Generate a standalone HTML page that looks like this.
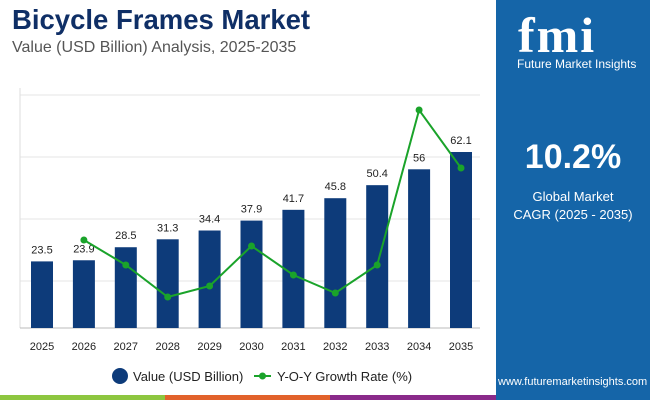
<!DOCTYPE html>
<html><head><meta charset="utf-8"><style>
body{margin:0;width:650px;height:400px;overflow:hidden;background:#fff;font-family:"Liberation Sans",sans-serif;position:relative}
.t{position:absolute;white-space:nowrap}
</style></head><body>
<div class="t" style="left:12px;top:4px;font-size:27.5px;font-weight:bold;color:#0f2f66">Bicycle Frames Market</div>
<div class="t" style="left:12px;top:39px;font-size:16px;color:#555">Value (USD Billion) Analysis, 2025-2035</div>
<div style="position:absolute;left:496px;top:0;width:154px;height:400px;background:#1565a8"></div>
<div class="t" style="left:518px;top:6px;font-size:50px;font-weight:bold;color:#fff;font-family:'Liberation Serif',serif;letter-spacing:2px">fmi</div>
<div class="t" style="left:517px;top:57px;font-size:12px;color:#fff">Future Market Insights</div>
<div class="t" style="left:496px;width:154px;text-align:center;top:138px;font-size:34px;font-weight:bold;color:#fff">10.2%</div>
<div class="t" style="left:496px;width:154px;text-align:center;top:188px;font-size:13px;color:#fff;line-height:18px">Global Market<br>CAGR (2025 - 2035)</div>
<div class="t" style="left:498px;top:376px;font-size:11px;color:#fff">www.futuremarketinsights.com</div>
<div style="position:absolute;left:0;top:395px;width:165px;height:5px;background:#8dc63f"></div>
<div style="position:absolute;left:165px;top:395px;width:165px;height:5px;background:#e2622b"></div>
<div style="position:absolute;left:330px;top:395px;width:166px;height:5px;background:#8a2a8a"></div>
<svg id="c" width="496" height="395" style="position:absolute;left:0;top:0"></svg>
<script>
const years=["2025","2026","2027","2028","2029","2030","2031","2032","2033","2034","2035"];
const values=[23.5,23.9,28.5,31.3,34.4,37.9,41.7,45.8,50.4,56,62.1];
const growth=[null,8.8,6.3,3.1,4.2,8.2,5.3,3.5,6.3,21.8,16.0];
const svg=document.getElementById('c');const NS='http://www.w3.org/2000/svg';
function mk(t,a){const e=document.createElementNS(NS,t);for(const k in a)e.setAttribute(k,a[k]);svg.appendChild(e);return e;}
const base=328;
const x=i=>42+i*41.9;
const yv=v=>base-v*2.834;
const yg=g=>base-g*10;
[95,157,219,281].forEach(gy=>{const l=mk('line',{x1:20,x2:480,y1:gy,y2:gy,stroke:'#e6e6e6'});

});
const ax=mk('line',{x1:20,x2:20,y1:88,y2:base,stroke:'#ddd'});


const bl=mk('line',{x1:20,x2:480,y1:base,y2:base,stroke:'#bbb'});


values.forEach((v,i)=>{
const r=mk('rect',{x:x(i)-11,y:yv(v),width:22,height:base-yv(v),fill:'#0d3b7a'});


const t=mk('text',{x:x(i),y:yv(v)-8,'text-anchor':'middle','font-size':11,fill:'#222'});t.textContent=v;


const xl=mk('text',{x:x(i),y:350,'text-anchor':'middle','font-size':11,fill:'#222'});xl.textContent=years[i];


});
let d='';growth.forEach((g,i)=>{if(g==null)return;d+=(d?'L':'M')+x(i)+','+yg(g);});
const p=mk('path',{d:d,fill:'none',stroke:'#1aa32a','stroke-width':2});


growth.forEach((g,i)=>{if(g==null)return;const c=mk('circle',{cx:x(i),cy:yg(g),r:3.5,fill:'#1aa32a'});

});
const lc=mk('circle',{cx:120,cy:376,r:8,fill:'#0d3b7a'});


const lt=mk('text',{x:133,y:381,'font-size':13,fill:'#222'});lt.textContent='Value (USD Billion)';


const ll=mk('line',{x1:254,x2:271,y1:376,y2:376,stroke:'#1aa32a','stroke-width':2});


const lp=mk('circle',{cx:262.5,cy:376,r:3.5,fill:'#1aa32a'});


const lt2=mk('text',{x:277,y:381,'font-size':13,fill:'#222'});lt2.textContent='Y-O-Y Growth Rate (%)';


</script>
</body></html>
